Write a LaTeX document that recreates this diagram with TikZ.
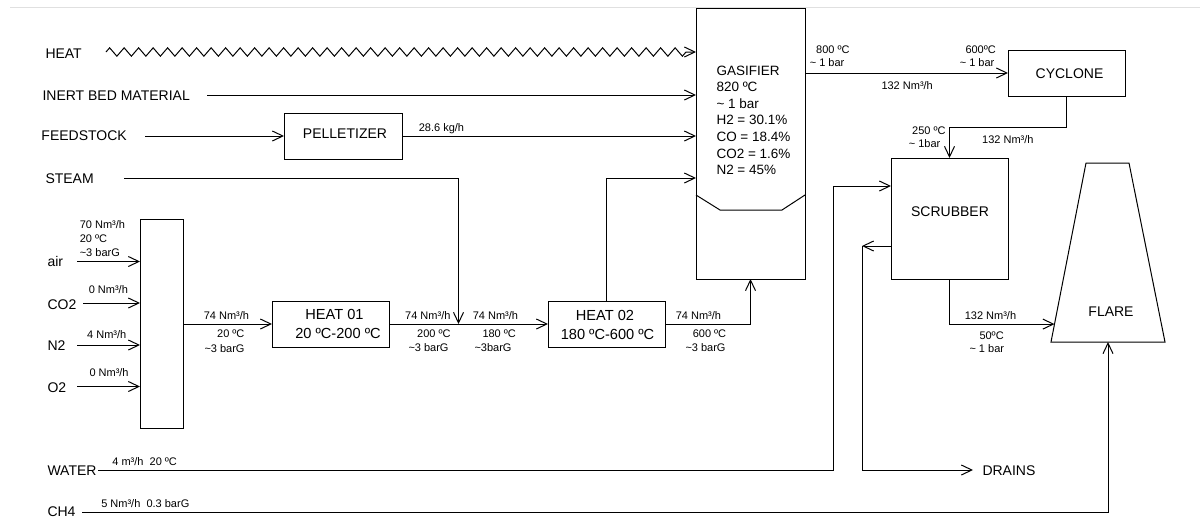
\documentclass[tikz,border=0pt]{standalone}
\usepackage{fontspec}
\setmainfont{Liberation Sans}
\usetikzlibrary{arrows.meta,decorations.pathmorphing,calc}
\newcommand{\mytl}{\textasciitilde}
\begin{document}
\begin{tikzpicture}[x=1pt,y=-1pt,line width=1pt,
  box/.style={draw,inner sep=0pt,outer sep=0pt},
  big/.style={font=\fontsize{14}{16}\selectfont,inner sep=0pt,anchor=base west},
  bigc/.style={font=\fontsize{14}{16}\selectfont,inner sep=0pt,anchor=base},
  heattxt/.style={font=\fontsize{14.6}{16}\selectfont,inner sep=0pt,anchor=base},
  sm/.style={font=\fontsize{11}{13}\selectfont,inner sep=0pt,anchor=base west},
  gastxt/.style={font=\fontsize{13.5}{16}\selectfont,inner sep=0pt,anchor=base west},
  flow/.style={-{Straight Barb[length=10.5pt,width=10pt]}}]
\useasboundingbox (0,0) rectangle (1200,517);
\draw[black!12,line width=1pt] (10,7) -- (1200,7);
% boxes
\node[box,minimum width=109pt,minimum height=271pt] (gas) at (750.5,143.5) {};
\node[box,minimum width=118pt,minimum height=46pt] (pellet) at (343,136) {};
\node[box,minimum width=117pt,minimum height=46pt] (heat01) at (330.5,324) {};
\node[box,minimum width=117pt,minimum height=46pt] (heat02) at (606.5,324) {};
\node[box,minimum width=43pt,minimum height=209pt] (mixer) at (161.5,323.5) {};
\node[box,minimum width=117pt,minimum height=46pt] (cyclone) at (1066.5,73) {};
\node[box,minimum width=117pt,minimum height=121pt] (scrubber) at (949.5,218.5) {};
% gasifier inner line
\draw (696,195) -- (720,210) -- (782,210) -- (805,195);
% flare
\coordinate (fbl) at (1051,342);
\coordinate (ftl) at (1086,163);
\coordinate (ftr) at (1129,163);
\coordinate (fbr) at (1165,342);
\draw (fbl) -- (ftl) -- (ftr) -- (fbr) -- cycle;
\coordinate (fin) at ($(fbl)!0.1!(ftl)$);
\coordinate (fbot) at ($(fbl)!0.5!(fbr)$);
% box texts
\node[bigc] (tPel) at (345,138) {PELLETIZER};
\node[heattxt] (tH1a) at (334.5,319) {HEAT 01};
\node[heattxt] (tH1b) at (338,338) {20 ºC-200 ºC};
\node[heattxt] (tH2a) at (605,320) {HEAT 02};
\node[heattxt] (tH2b) at (607.5,339) {180 ºC-600 ºC};
\node[bigc] (tCyc) at (1069.5,78) {CYCLONE};
\node[bigc] (tScr) at (950,216) {SCRUBBER};
\node[bigc] (tFla) at (1111,316) {FLARE};
\node[gastxt] (g1) at (716,75) {GASIFIER};
\node[gastxt] (g2) at (716,91.6) {820 ºC};
\node[gastxt] (g3) at (716,108.2) {\mytl{} 1 bar};
\node[gastxt] (g4) at (716,124.8) {H2 = 30.1\%};
\node[gastxt] (g5) at (716,141.4) {CO = 18.4\%};
\node[gastxt] (g6) at (716,158) {CO2 = 1.6\%};
\node[gastxt] (g7) at (716,174.6) {N2 = 45\%};
% stream labels
\node[big] (tHeat) at (45,58) {HEAT};
\node[big] (tInert) at (42,100) {INERT BED MATERIAL};
\node[big] (tFeed) at (41,140) {FEEDSTOCK};
\node[big] (tSteam) at (45,183) {STEAM};
\node[big] (tAir) at (47,266.5) {air};
\node[big] (tCO2) at (47,309) {CO2};
\node[big] (tN2) at (47,350) {N2};
\node[big] (tO2) at (47,392) {O2};
\node[big] (tWater) at (47,475) {WATER};
\node[big] (tCH4) at (47,516) {CH4};
\node[big] (tDrains) at (982,475.5) {DRAINS};
% small labels
\node[sm] (s1) at (79.3,228.5) {70 Nm³/h};
\node[sm] (s2) at (79.3,242.5) {20 ºC};
\node[sm] (s3) at (79.3,256.5) {\mytl3 barG};
\node[sm] (s4) at (88.3,293) {0 Nm³/h};
\node[sm] (s5) at (86.7,338) {4 Nm³/h};
\node[sm] (s6) at (89,376.5) {0 Nm³/h};
\node[sm] (s7) at (203.3,319) {74 Nm³/h};
\node[sm] (s8) at (216.7,337.7) {20 ºC};
\node[sm] (s9) at (204,352) {\mytl3 barG};
\node[sm] (s10) at (404.7,319) {74 Nm³/h};
\node[sm] (s11) at (416.7,337.7) {200 ºC};
\node[sm] (s12) at (408,351.7) {\mytl3 barG};
\node[sm] (s13) at (472.3,319) {74 Nm³/h};
\node[sm] (s14) at (482,337.7) {180 ºC};
\node[sm] (s15) at (474,351.7) {\mytl3barG};
\node[sm] (s16) at (675.3,319) {74 Nm³/h};
\node[sm] (s17) at (692.3,337.7) {600 ºC};
\node[sm] (s18) at (685,351.7) {\mytl3 barG};
\node[sm] (s19) at (418.3,131.7) {28.6 kg/h};
\node[sm] (s20) at (815.7,53.3) {800 ºC};
\node[sm] (s21) at (809.3,66.7) {\mytl{} 1 bar};
\node[sm] (s22) at (881,89.3) {132 Nm³/h};
\node[sm] (s23) at (965,53.3) {600ºC};
\node[sm] (s24) at (959.3,66.7) {\mytl{} 1 bar};
\node[sm] (s25) at (911.7,134) {250 ºC};
\node[sm] (s26) at (908.3,147) {\mytl{} 1bar};
\node[sm] (s27) at (981.7,143.3) {132 Nm³/h};
\node[sm] (s28) at (964.3,319.3) {132 Nm³/h};
\node[sm] (s29) at (979,339) {50ºC};
\node[sm] (s30) at (969,352.7) {\mytl{} 1 bar};
\node[sm] (s31) at (111.9,465) {4 m³/h\ \ 20 ºC};
\node[sm] (s32) at (100.8,507) {5 Nm³/h\ \ 0.3 barG};
% start coordinates
\coordinate (heatS) at (106,52);
\coordinate (inertS) at (207,95);
\coordinate (feedS) at (145,136);
\coordinate (steamS) at (124,178);
\coordinate (steamJ) at (458.5,324);
\coordinate (airS) at (77,261.5);
\coordinate (co2S) at (83,303);
\coordinate (n2S) at (77,345);
\coordinate (o2S) at (77,386.5);
\coordinate (waterS) at (98,470);
\coordinate (waterT) at (833.5,186);
\coordinate (drJ) at (862,246);
\coordinate (drE) at (973,470);
\coordinate (ch4S) at (82,512);
% connectors
\draw[flow,decorate,decoration={zigzag,segment length=14.5pt,amplitude=4.2pt,post length=9pt}] (heatS) -- (heatS -| gas.west);
\draw[flow] (inertS) -- (inertS -| gas.west);
\draw[flow] (feedS) -- (pellet.west);
\draw[flow] (pellet.east) -- (pellet.east -| gas.west);
\draw[flow] (steamS) -- (steamS -| steamJ) -- (steamJ);
\draw[flow] (heat02.north) -- (heat02.north |- steamS) -- (steamS -| gas.west);
\draw[flow] (airS) -- (airS -| mixer.west);
\draw[flow] (co2S) -- (co2S -| mixer.west);
\draw[flow] (n2S) -- (n2S -| mixer.west);
\draw[flow] (o2S) -- (o2S -| mixer.west);
\draw[flow] (mixer.east |- heat01.west) -- (heat01.west);
\draw[flow] (heat01.east) -- (heat02.west);
\draw[flow] (heat02.east) -- (heat02.east -| gas.south) -- (gas.south);
\draw[flow] (gas.east |- cyclone.west) -- (cyclone.west);
\draw[flow] (cyclone.south) -- ++(0,31) -| (scrubber.north);
\draw[flow] (waterS) -- (waterS -| waterT) -- (waterT) -- (waterT -| scrubber.west);
\draw[flow] (drJ -| scrubber.west) -- (drJ);
\draw[flow] (drJ) |- (drE);
\draw[flow] (scrubber.south) |- (fin);
\draw[flow] (ch4S) -| (fbot);
\end{tikzpicture}
\end{document}
